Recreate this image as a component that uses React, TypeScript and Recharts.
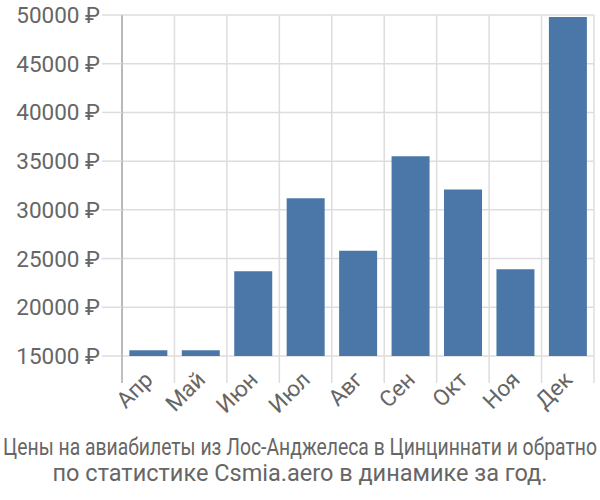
import React, { useLayoutEffect, useRef, useState } from "react";
import { BarChart, Bar, XAxis, YAxis, CartesianGrid } from "recharts";

const months = ["Апр", "Май", "Июн", "Июл", "Авг", "Сен", "Окт", "Ноя", "Дек"];
const prices = [15600, 15600, 23700, 31200, 25800, 35500, 32100, 23900, 49800];
const yTicks = [15000, 20000, 25000, 30000, 35000, 40000, 45000, 50000];

const titleLine1 = "Цены на авиабилеты из Лос-Анджелеса в Цинциннати и обратно";
const titleLine2 = "по статистике Csmia.aero в динамике за год.";

const data = months.map((m, i) => ({ month: m, price: prices[i] }));

const FONT = "Roboto, 'Noto Sans', sans-serif";
const TEXT = "#666";
const GRID = "#dddddd";

// x tick: boundary line on the left of each band plus rotated label
function MonthTick(props: any) {
    const { x, y, payload, index, visibleTicksCount } = props;
    const half = (472 / 9) / 2;
    const left = x - half;
    const isLast = index === (visibleTicksCount ?? months.length) - 1;
    return (
        <g>
            <line x1={left} x2={left} y1={y - 8} y2={y + 19} stroke={index === 0 ? "#aaa" : GRID} strokeWidth={1.5} />
            {isLast && (
                <line x1={x + half} x2={x + half} y1={y - 8} y2={y + 19} stroke={GRID} strokeWidth={1.5} />
            )}
            <text
                x={x + 6}
                y={y + 17}
                textAnchor="end"
                transform={`rotate(-45 ${x + 6} ${y + 17})`}
                fill={TEXT}
                fontSize={22.5}
                fontFamily={FONT}
            >
                {payload.value}
            </text>
        </g>
    );
}

// squeezes a line horizontally so it fits the given width
function FitText({ text, y, width, fontSize }: { text: string; y: number; width: number; fontSize: number }) {
    const ref = useRef<SVGTextElement>(null);
    const [sx, setSx] = useState(1);
    useLayoutEffect(() => {
        if (ref.current) {
            const w = ref.current.getComputedTextLength();
            if (w > width) setSx(width / w);
        }
    }, [text, width]);
    return (
        <text
            ref={ref}
            x={0}
            y={0}
            transform={`translate(300 ${y}) scale(${sx} 1)`}
            textAnchor="middle"
            fill={TEXT}
            fontSize={fontSize}
            fontFamily={FONT}
        >
            {text}
        </text>
    );
}

export default function App() {
    return (
        <div style={{ position: "absolute", left: 0, top: 0, width: 600, height: 500, background: "#fff" }}>
            <BarChart
                width={600}
                height={500}
                data={data}
                margin={{ top: 15, right: 6, left: 0, bottom: 0 }}
                barCategoryGap="14%"
            >
                <CartesianGrid
                    stroke={GRID}
                    strokeWidth={1.5}
                    vertical={true}
                    verticalCoordinatesGenerator={({ offset }: any) =>
                        Array.from({ length: 10 }, (_, i) => offset.left + (i * offset.width) / 9)
                    }
                />
                <XAxis
                    dataKey="month"
                    height={144}
                    axisLine={false}
                    tickLine={false}
                    interval={0}
                    tick={<MonthTick />}
                />
                <YAxis
                    width={122}
                    domain={[15000, 50000]}
                    ticks={yTicks}
                    interval={0}
                    tickSize={20}
                    tickMargin={2}
                    tickLine={{ stroke: GRID, strokeWidth: 1.5 }}
                    axisLine={{ stroke: "#aaa", strokeWidth: 1.5 }}
                    tickFormatter={(v: number) => `${v} ₽`}
                    tick={{ fill: TEXT, fontSize: 22.5, fontFamily: FONT }}
                />
                <Bar dataKey="price" fill="#4a77a8" isAnimationActive={false} />
            </BarChart>
            <svg width={600} height={70} style={{ position: "absolute", left: 0, top: 430 }}>
                <FitText text={titleLine1} y={25} width={594} fontSize={23} />
                <text x={300} y={51} textAnchor="middle" fill={TEXT} fontSize={23.5} fontFamily={FONT}>
                    {titleLine2}
                </text>
            </svg>
        </div>
    );
}
